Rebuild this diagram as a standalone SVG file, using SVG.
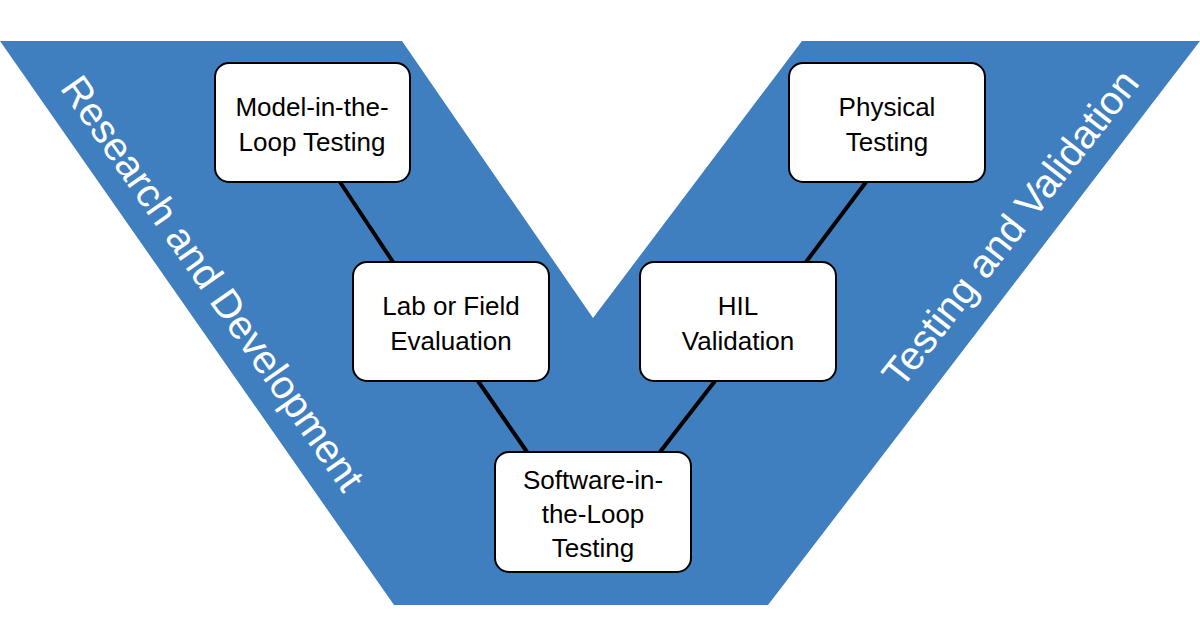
<svg xmlns="http://www.w3.org/2000/svg" width="1200" height="628" viewBox="0 0 1200 628">
<style>
.box{fill:#fff;stroke:#000;stroke-width:2}
.t{font-family:"Liberation Sans",Arial,sans-serif;font-size:26px;fill:#000;text-anchor:middle}
.side{font-family:"Liberation Sans",Arial,sans-serif;font-size:40px;fill:#fff;text-anchor:middle;dominant-baseline:central}
.c{stroke:#000;stroke-width:4}
</style>
<rect width="1200" height="628" fill="#fff"/>
<polygon id="v" points="0,41 402,41 593,318 802,41 1200,41 768,605 394,605" fill="#3f7fbf"/>
<text class="side" transform="translate(213,283) rotate(55)">Research and Development</text>
<text class="side" transform="translate(1010,228) rotate(-52)">Testing and Validation</text>
<g id="connectors">
<line class="c" x1="340" y1="182" x2="393" y2="262"/>
<line class="c" x1="866" y1="182" x2="806" y2="262"/>
<line class="c" x1="478" y1="381" x2="527" y2="452"/>
<line class="c" x1="715" y1="381" x2="660" y2="452"/>
</g>
<g id="model"><rect class="box" x="215" y="63" width="195" height="119" rx="14"/><text class="t" x="312" y="116">Model-in-the-</text><text class="t" x="312" y="151">Loop Testing</text></g>
<g id="physical"><rect class="box" x="789" y="63" width="196" height="119" rx="14"/><text class="t" x="887" y="116">Physical</text><text class="t" x="887" y="151">Testing</text></g>
<g id="lab"><rect class="box" x="353" y="262" width="196" height="119" rx="14"/><text class="t" x="451" y="315">Lab or Field</text><text class="t" x="451" y="350">Evaluation</text></g>
<g id="hil"><rect class="box" x="640" y="262" width="196" height="119" rx="14"/><text class="t" x="738" y="315">HIL</text><text class="t" x="738" y="350">Validation</text></g>
<g id="sil"><rect class="box" x="495" y="452" width="196" height="120" rx="14"/><text class="t" x="593" y="489">Software-in-</text><text class="t" x="593" y="523">the-Loop</text><text class="t" x="593" y="557">Testing</text></g>
</svg>
